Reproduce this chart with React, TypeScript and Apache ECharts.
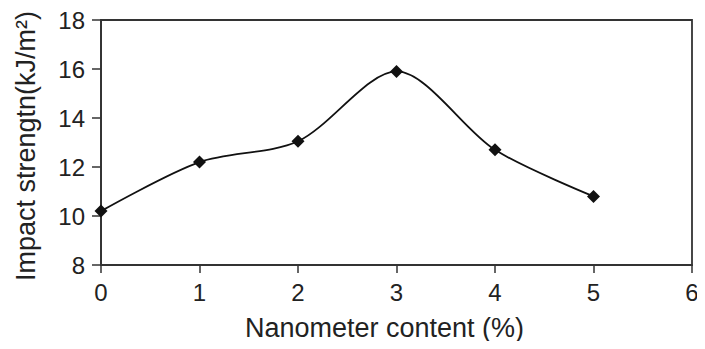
import React, { useEffect, useRef } from "react";
import * as echarts from "echarts";

const xValues = [0, 1, 2, 3, 4, 5];
const impactValues = [10.2, 12.2, 13.05, 15.9, 12.7, 10.8];
const xTicks = [0, 1, 2, 3, 4, 5, 6];
const yTicks = [8, 10, 12, 14, 16, 18];

export default function App() {
  const ref = useRef<HTMLDivElement>(null);
  useEffect(() => {
    if (!ref.current) return;
    const chart = echarts.init(ref.current, undefined, { renderer: "svg" });
    const font = "Liberation Sans, Arial, sans-serif";
    chart.setOption({
      animation: false,
      backgroundColor: "#fff",
      grid: {
        left: 101,
        right: 13,
        top: 20,
        bottom: 84,
        show: true,
        borderColor: "#333",
        borderWidth: 1.8,
        backgroundColor: "transparent",
      },
      xAxis: {
        type: "value",
        min: xTicks[0],
        max: xTicks[xTicks.length - 1],
        interval: 1,
        name: "Nanometer content (%)",
        nameLocation: "middle",
        nameGap: 49,
        nameTextStyle: { fontSize: 27, color: "#222", fontFamily: font, padding: [0, 24, 0, 0] },
        axisLine: { show: true, lineStyle: { color: "#333", width: 1.8 } },
        axisTick: { show: true, length: 8, lineStyle: { color: "#333", width: 1.5 } },
        axisLabel: { fontSize: 24, color: "#222", fontFamily: font, margin: 15 },
        splitLine: { show: false },
      },
      yAxis: {
        type: "value",
        min: yTicks[0],
        max: yTicks[yTicks.length - 1],
        interval: 2,
        name: "Impact strengtn(kJ/m²)",
        nameLocation: "middle",
        nameGap: 62,
        nameTextStyle: { fontSize: 27, color: "#222", fontFamily: font, padding: [0, 7, 0, 0] },
        axisLine: { show: true, lineStyle: { color: "#333", width: 1.8 } },
        axisTick: { show: true, length: 9, lineStyle: { color: "#333", width: 1.5 } },
        axisLabel: { fontSize: 24, color: "#222", fontFamily: font, margin: 16 },
        splitLine: { show: false },
      },
      series: [
        {
          type: "line",
          data: xValues.map((x, i) => [x, impactValues[i]]),
          smooth: 0.3,
          symbol: "diamond",
          symbolSize: 13,
          itemStyle: { color: "#111" },
          lineStyle: { color: "#111", width: 1.8 },
        },
      ],
    });
    return () => chart.dispose();
  }, []);
  return <div ref={ref} style={{ width: 705, height: 349, margin: -8 }} />;
}
